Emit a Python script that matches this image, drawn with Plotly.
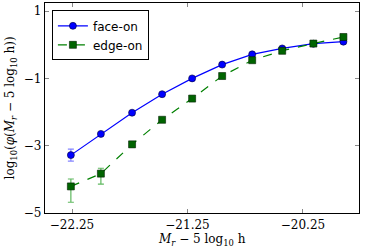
import plotly.graph_objects as go

mag = [-22.26, -22.0, -21.73, -21.47, -21.21, -20.95, -20.69, -20.43, -20.16, -19.90]
face_on = [-3.28, -2.65, -2.02, -1.47, -1.00, -0.59, -0.285, -0.11, 0.03, 0.09]
face_err_up = [0.18, 0.03, 0.02, 0.02, 0.02, 0.01, 0.01, 0.01, 0.01, 0.01]
face_err_dn = [0.18, 0.03, 0.02, 0.02, 0.02, 0.01, 0.01, 0.01, 0.01, 0.01]
edge_on = [-4.21, -3.83, -2.96, -2.23, -1.60, -0.93, -0.46, -0.18, 0.035, 0.23]
edge_err_up = [0.22, 0.16, 0.06, 0.03, 0.03, 0.02, 0.02, 0.01, 0.01, 0.01]
edge_err_dn = [0.47, 0.31, 0.09, 0.03, 0.03, 0.02, 0.02, 0.01, 0.01, 0.01]

xticks = [-22.25, -21.25, -20.25]
xticktext = ["\u221222.25", "\u221221.25", "\u221220.25"]
yticks = [1, -1, -3, -5]
yticktext = ["1", "\u22121", "\u22123", "\u22125"]

fig = go.Figure()
fig.add_trace(go.Scatter(
    x=mag, y=face_on, name="face-on", mode="lines+markers",
    line=dict(color="#0000ff", width=1.2),
    marker=dict(symbol="circle", size=7, color="#0000ff", line=dict(color="#000033", width=0.6)),
    error_y=dict(type="data", array=face_err_up, arrayminus=face_err_dn,
                 color="rgba(80,80,255,0.7)", thickness=1.2, width=3),
))
fig.add_trace(go.Scatter(
    x=mag, y=edge_on, name="edge-on", mode="lines+markers",
    line=dict(color="#008000", width=1.2, dash="dash"),
    marker=dict(symbol="square", size=7, color="#006400", line=dict(color="#002000", width=0.6)),
    error_y=dict(type="data", array=edge_err_up, arrayminus=edge_err_dn,
                 color="rgba(40,160,40,0.75)", thickness=1.2, width=3),
))

axis_common = dict(
    showline=True, linecolor="black", linewidth=1.3, mirror="ticks",
    ticks="inside", ticklen=4, tickcolor="#888888", tickwidth=1,
    showgrid=False, zeroline=False, automargin=False,
    tickfont=dict(family="DejaVu Serif", size=12, color="black"),
)

fig.update_layout(
    width=366, height=248,
    margin=dict(l=45, r=7, t=3, b=35),
    paper_bgcolor="white", plot_bgcolor="white",
    showlegend=True,
    legend=dict(x=0.022, y=0.965, xanchor="left", yanchor="top",
                bordercolor="black", borderwidth=1, bgcolor="white",
                font=dict(family="DejaVu Sans", size=12, color="black"),
                tracegroupgap=0, itemwidth=30),
    xaxis=dict(range=[-22.484, -19.765], tickvals=xticks, ticktext=xticktext,
               **axis_common),
    yaxis=dict(range=[-5, 1.24], tickvals=yticks, ticktext=yticktext,
               **axis_common),
    annotations=[
        dict(text="<i>M<sub>r</sub></i> \u2212 5 log<sub>10</sub> h",
             xref="paper", yref="paper", x=0.5, y=-0.08, xanchor="center", yanchor="top",
             showarrow=False, font=dict(family="DejaVu Serif", size=12, color="black")),
        dict(text="log<sub>10</sub>(<i>\u03c6</i>(<i>M<sub>r</sub></i> \u2212 5 log<sub>10</sub> h))",
             xref="paper", yref="paper", x=-0.107, y=0.5, xanchor="center", yanchor="middle",
             textangle=-90, showarrow=False,
             font=dict(family="DejaVu Serif", size=12, color="black")),
    ],
)

fig.write_html("out.html",
               config={"displayModeBar": False},
               post_script="document.body.style.margin='0';document.body.style.overflow='hidden';")
